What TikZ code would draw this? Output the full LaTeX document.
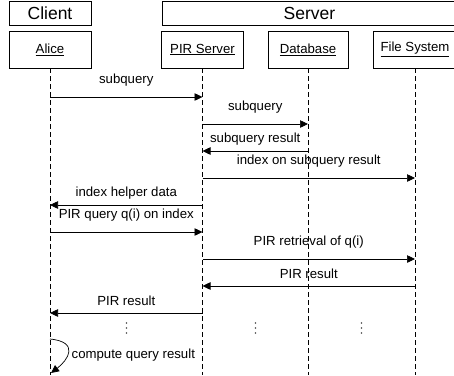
\documentclass[tikz,border=0pt]{standalone}
\usepackage{fontspec}
\setmainfont{Liberation Sans}
\usetikzlibrary{arrows.meta}

\begin{document}
\begin{tikzpicture}[x=1pt,y=-1pt,line width=0.7pt,
  every node/.style={font=\fontsize{13.2}{15}\selectfont},
  role/.style={draw, minimum width=82pt, minimum height=24pt, inner sep=0pt,
    font=\fontsize{17.5}{20}\selectfont},
  actor/.style={draw, minimum width=82pt, minimum height=37pt, inner sep=0pt},
  life/.style={dash pattern=on 5pt off 3pt},
  msg/.style={-{Triangle[length=8pt,width=7.5pt]}},
  sendlbl/.style={midway, yshift=17pt},
  replylbl/.style={midway, yshift=12pt}]
  \useasboundingbox (0,0) rectangle (454,375);
% Roles
  \node[role] (client) at (50,13) {Client};
  \node[role, minimum width=295pt] (server) at (309.5,13) {Server};
% Actors
  \node[actor] (alice) at (50,49.5) {\underline{Alice}};
  \node[actor] (pir) at (202.5,49.5) {\underline{PIR Server}};
  \node[actor, minimum width=80pt] (db) at (308,49.5) {\underline{Database}};
  \node[actor, minimum width=84pt] (fs) at (415,49.5) {\underline{File System}};
% Lifelines
  \coordinate (bottom) at (0,375);
  \foreach \n in {alice,pir,db,fs}
    \draw[life] (\n.south) -- (\n.south |- bottom);
% Messages
  \foreach \i/\y in {1/97,2/124,3/151,4/178,5/205,6/232,7/259,8/286,9/313}
    \coordinate (m\i) at (0,\y);
  \draw[msg] (alice |- m1) -- node[sendlbl]{subquery} (pir |- m1);
  \draw[msg] (pir |- m2) -- node[sendlbl]{subquery} (db |- m2);
  \draw[msg] (db |- m3) -- node[replylbl]{subquery result} (pir |- m3);
  \draw[msg] (pir |- m4) -- node[sendlbl]{index on subquery result} (fs |- m4);
  \draw[msg] (pir |- m5) -- node[replylbl]{index helper data} (alice |- m5);
  \draw[msg] (alice |- m6) -- node[sendlbl]{PIR query q(i) on index} (pir |- m6);
  \draw[msg] (pir |- m7) -- node[sendlbl]{PIR retrieval of q(i)} (fs |- m7);
  \draw[msg] (fs |- m8) -- node[replylbl]{PIR result} (pir |- m8);
  \draw[msg] (pir |- m9) -- node[replylbl]{PIR result} (alice |- m9);
% Gaps
  \foreach \x in {126.5,255.5,361.5}
    \foreach \y in {323,328,333}
      \fill[black!70] (\x,\y) circle (0.8);
% Self call
  \coordinate (s1) at (50,339);
  \coordinate (s2) at (51,373);
  \draw[msg] (s1) .. controls (80,342) and (68,360) .. (s2);
  \node[anchor=west] (compute) at (68,355) {compute query result};
\end{tikzpicture}
\end{document}
